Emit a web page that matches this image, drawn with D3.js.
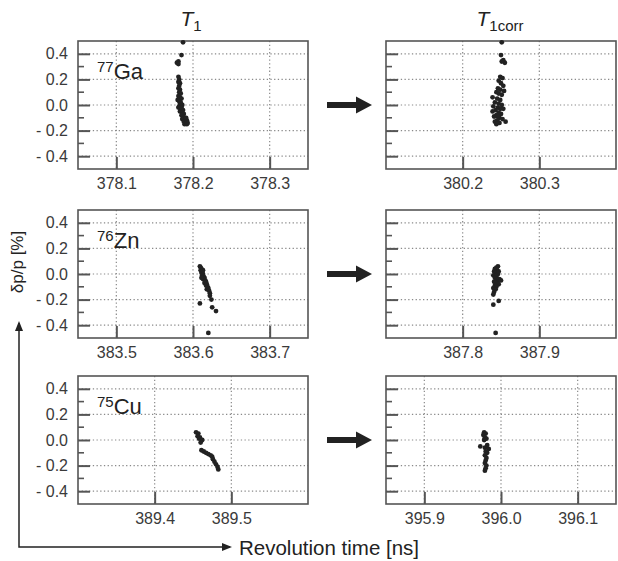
<!DOCTYPE html>
<html>
<head>
<meta charset="utf-8">
<script src="https://cdn.jsdelivr.net/npm/d3@7"></script>
<style>
  body { margin: 0; background: #fff; }
  svg { display: block; font-family: Arial, "Liberation Sans", sans-serif; }
</style>
</head>
<body>
<svg id="chart" width="618" height="561"></svg>
<script>
// isotopes (rows)
const isoMass = ["77", "76", "75"];
const isoSym = ["Ga", "Zn", "Cu"];

// x domains and ticks
const xDomT1 = [[378.05, 378.35], [383.45, 383.75], [389.3, 389.6]];
const xDomCorr = [[380.1, 380.4], [387.7, 388.0], [395.85, 396.15]];
const xTicksT1 = [[378.1, 378.2, 378.3], [383.5, 383.6, 383.7], [389.4, 389.5]];
const xTicksCorr = [[380.2, 380.3], [387.8, 387.9], [395.9, 396.0, 396.1]];

const yDom = [-0.5, 0.5];
const yTicks = [-0.4, -0.2, 0.0, 0.2, 0.4];
const yMinor = [-0.3, -0.1, 0.1, 0.3];
const yTickLabels = ["- 0.4", "- 0.2", "0.0", "0.2", "0.4"];

// 77Ga, T1
const gaT1X = [378.187,378.185,378.181,378.179,378.181,378.181,378.182,378.181,378.183,378.182,378.181,378.183,378.182,378.184,378.181,378.183,378.185,378.182,378.184,378.183,378.186,378.182,378.185,378.184,378.187,378.183,378.186,378.188,378.185,378.187,378.189,378.186,378.190,378.188,378.191,378.189,378.192,378.193,378.192,378.191,378.180,378.181];
const gaT1Y = [0.49,0.39,0.34,0.33,0.32,0.22,0.20,0.18,0.17,0.15,0.13,0.12,0.10,0.09,0.07,0.06,0.05,0.03,0.02,0.01,0.00,-0.01,-0.02,-0.03,-0.04,-0.05,-0.06,-0.07,-0.08,-0.09,-0.10,-0.11,-0.12,-0.13,-0.14,-0.15,-0.15,-0.14,-0.12,-0.10,0.04,-0.02];
// 77Ga, T1corr
const gaCorrX = [380.251,380.250,380.253,380.255,380.251,380.249,380.252,380.247,380.250,380.253,380.246,380.249,380.244,380.247,380.251,380.239,380.245,380.249,380.242,380.247,380.251,380.240,380.246,380.249,380.243,380.239,380.247,380.250,380.244,380.241,380.248,380.252,380.245,380.242,380.248,380.244,380.256,380.246,380.254,380.253];
const gaCorrY = [0.49,0.39,0.35,0.33,0.34,0.22,0.21,0.19,0.17,0.15,0.13,0.12,0.10,0.09,0.08,0.06,0.05,0.04,0.02,0.01,0.00,-0.01,-0.02,-0.03,-0.04,-0.05,-0.06,-0.07,-0.08,-0.09,-0.10,-0.11,-0.12,-0.13,-0.14,-0.15,-0.13,-0.09,0.11,-0.03];
// 76Zn, T1
const znT1X = [383.609,383.610,383.611,383.610,383.612,383.611,383.613,383.612,383.614,383.615,383.613,383.616,383.617,383.615,383.618,383.617,383.619,383.620,383.618,383.621,383.622,383.622,383.624,383.609,383.625,383.630,383.620,383.611,383.613];
const znT1Y = [0.06,0.05,0.04,0.03,0.02,0.01,0.00,-0.01,-0.02,-0.03,-0.04,-0.05,-0.06,-0.07,-0.08,-0.09,-0.10,-0.11,-0.12,-0.13,-0.15,-0.17,-0.20,-0.23,-0.26,-0.29,-0.46,-0.03,0.03];
// 76Zn, T1corr
const znCorrX = [387.846,387.844,387.842,387.845,387.841,387.843,387.846,387.840,387.844,387.842,387.848,387.845,387.841,387.843,387.847,387.842,387.844,387.840,387.843,387.841,387.840,387.847,387.840,387.843,387.850,387.847];
const znCorrY = [0.06,0.05,0.04,0.03,0.02,0.01,0.00,-0.01,-0.02,-0.03,-0.04,-0.05,-0.06,-0.07,-0.08,-0.09,-0.10,-0.11,-0.12,-0.14,-0.16,-0.21,-0.24,-0.46,-0.05,0.02];
// 75Cu, T1
const cuT1X = [389.454,389.457,389.456,389.459,389.458,389.462,389.460,389.461,389.464,389.467,389.470,389.473,389.475,389.476,389.478,389.480,389.482,389.483];
const cuT1Y = [0.06,0.05,0.03,0.02,0.01,0.00,-0.02,-0.08,-0.09,-0.10,-0.11,-0.12,-0.13,-0.15,-0.17,-0.19,-0.21,-0.23];
// 75Cu, T1corr
const cuCorrX = [395.978,395.980,395.977,395.979,395.981,395.978,395.982,395.973,395.979,395.984,395.980,395.982,395.979,395.981,395.980,395.979,395.981,395.980,395.979];
const cuCorrY = [0.06,0.05,0.04,0.02,0.01,0.00,-0.04,-0.05,-0.06,-0.07,-0.09,-0.10,-0.12,-0.14,-0.16,-0.18,-0.20,-0.22,-0.24];

const t1Pts = [[gaT1X, gaT1Y], [znT1X, znT1Y], [cuT1X, cuT1Y]];
const corrPts = [[gaCorrX, gaCorrY], [znCorrX, znCorrY], [cuCorrX, cuCorrY]];

// layout
const colX = [78, 386];
const rowY = [41, 210, 376];
const pw = 230, ph = 128;

const svg = d3.select("#chart");

function drawPanel(col, row, dom, ticks, pts) {
  const g = svg.append("g")
    .attr("class", "panel")
    .attr("transform", `translate(${colX[col]},${rowY[row]})`);
  const x = d3.scaleLinear().domain(dom).range([0, pw]);
  const y = d3.scaleLinear().domain(yDom).range([ph, 0]);

  // dotted grid
  g.append("g").selectAll("line")
    .data(ticks).join("line")
      .attr("x1", d => x(d)).attr("x2", d => x(d))
      .attr("y1", 0).attr("y2", ph)
      .attr("stroke", "#8a8a8a").attr("stroke-width", 1.2)
      .attr("stroke-dasharray", "1.3,2.4");
  g.append("g").selectAll("line")
    .data(yTicks).join("line")
      .attr("x1", 0).attr("x2", pw)
      .attr("y1", d => y(d)).attr("y2", d => y(d))
      .attr("stroke", "#8a8a8a").attr("stroke-width", 1.2)
      .attr("stroke-dasharray", "1.3,2.4");

  // minor y ticks
  g.append("g").selectAll("line")
    .data(yMinor).join("line")
      .attr("x1", 0).attr("x2", 6)
      .attr("y1", d => y(d)).attr("y2", d => y(d))
      .attr("stroke", "#555").attr("stroke-width", 1.6);

  // axes, ticks pointing inward
  const yAx = d3.axisLeft(y).tickValues(yTicks).tickSize(-12).tickPadding(10)
    .tickFormat((d, i) => col === 0 ? yTickLabels[i] : "");
  g.append("g").call(yAx)
    .attr("font-size", null).attr("font-family", null)
    .call(a => a.select(".domain").remove())
    .call(a => a.selectAll(".tick line").attr("stroke", "#555").attr("stroke-width", 2))
    .call(a => a.selectAll(".tick text")
      .attr("xml:space", "preserve")
      .attr("fill", "#3a3a3a")
      .style("font-size", "16px"));

  const xAx = d3.axisBottom(x).tickValues(ticks).tickSize(-12).tickPadding(9)
    .tickFormat(d3.format(".1f"));
  g.append("g").attr("transform", `translate(0,${ph})`).call(xAx)
    .attr("font-size", null).attr("font-family", null)
    .call(a => a.select(".domain").remove())
    .call(a => a.selectAll(".tick line").attr("stroke", "#555").attr("stroke-width", 2))
    .call(a => a.selectAll(".tick text")
      .attr("fill", "#3a3a3a")
      .style("font-size", "16px"));

  // frame
  g.append("rect")
    .attr("width", pw).attr("height", ph)
    .attr("fill", "none").attr("stroke", "#555").attr("stroke-width", 1.6);

  // points
  const [px, py] = pts;
  g.append("g").attr("fill", "#222")
    .selectAll("circle")
    .data(px.map((v, i) => [v, py[i]]))
    .join("circle")
      .attr("cx", d => x(d[0]))
      .attr("cy", d => y(d[1]))
      .attr("r", 2.4);

  return y;
}

for (let r = 0; r < 3; r++) {
  const y = drawPanel(0, r, xDomT1[r], xTicksT1[r], t1Pts[r]);
  drawPanel(1, r, xDomCorr[r], xTicksCorr[r], corrPts[r]);

  // isotope label
  const lab = svg.append("text")
    .attr("x", colX[0] + 19)
    .attr("y", rowY[r] + 38)
    .attr("fill", "#222")
    .style("font-size", "22px");
  lab.append("tspan").text(isoMass[r]).style("font-size", "15px").attr("dy", "-7");
  lab.append("tspan").text(isoSym[r]).attr("dy", "7");

  // big arrow between columns, at the 0.0 line
  const ay = rowY[r] + y(0);
  svg.append("path")
    .attr("d", `M327,${ay - 3}H356V${ay - 8.5}L372,${ay}L356,${ay + 8.5}V${ay + 3}H327Z`)
    .attr("fill", "#222");
}

// column titles
const t1 = svg.append("text")
  .attr("x", colX[0] + pw / 2 - 2).attr("y", 26)
  .attr("text-anchor", "middle").attr("fill", "#222")
  .style("font-size", "21px");
t1.append("tspan").text("T").style("font-style", "italic");
t1.append("tspan").text("1").style("font-size", "15px").attr("dy", "5");

const t2 = svg.append("text")
  .attr("x", colX[1] + pw / 2 - 1).attr("y", 26)
  .attr("text-anchor", "middle").attr("fill", "#222")
  .style("font-size", "21px");
t2.append("tspan").text("T").style("font-style", "italic");
t2.append("tspan").text("1corr").style("font-size", "15px").attr("dy", "5");

// axis titles with arrows
svg.append("text")
  .attr("transform", "translate(23,262) rotate(-90)")
  .attr("text-anchor", "middle").attr("fill", "#222")
  .style("font-size", "17px")
  .text("δp/p [%]");

svg.append("path")
  .attr("d", "M19,323V547H230")
  .attr("fill", "none").attr("stroke", "#222").attr("stroke-width", 1.5);
svg.append("path").attr("d", "M19,321L15,331L23,331Z").attr("fill", "#222");
svg.append("path").attr("d", "M232,547L222,543L222,551Z").attr("fill", "#222");

svg.append("text")
  .attr("x", 239).attr("y", 555)
  .attr("fill", "#222")
  .style("font-size", "20.5px")
  .text("Revolution time [ns]");
</script>
</body>
</html>
